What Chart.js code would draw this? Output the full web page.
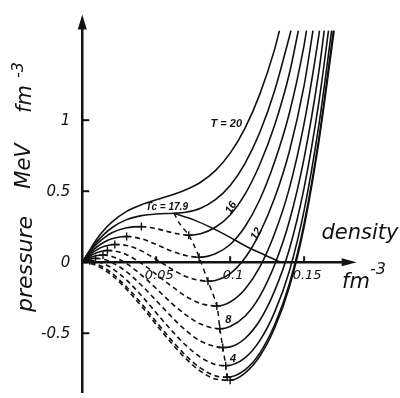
<!DOCTYPE html>
<html><head><meta charset="utf-8">
<script src="https://cdn.jsdelivr.net/npm/chart.js@4/dist/chart.umd.min.js"></script>
<style>html,body{margin:0;padding:0;background:#fff;}canvas{display:block;}</style>
</head><body>
<canvas id="c" width="400" height="398"></canvas>
<script>
// ---- data (density in fm^-3, pressure in MeV fm^-3) ----
const temperatures = [20, 17.9, 16, 14, 12, 10, 8, 6, 4, 2, 0];

const density_T20  = [0, 0.005, 0.01, 0.015, 0.02, 0.03, 0.04, 0.05, 0.06, 0.07, 0.08, 0.09, 0.10, 0.11, 0.12, 0.13, 0.1333];
const pressure_T20 = [0, 0.085, 0.165, 0.23, 0.283, 0.358, 0.405, 0.44, 0.472, 0.51, 0.563, 0.645, 0.768, 0.943, 1.182, 1.497, 1.63];

const density_T179  = [0, 0.005, 0.01, 0.015, 0.02, 0.03, 0.04, 0.05, 0.062, 0.07, 0.08, 0.09, 0.10, 0.11, 0.12, 0.13, 0.14, 0.1411];
const pressure_T179 = [0, 0.078, 0.145, 0.2, 0.243, 0.3, 0.328, 0.34, 0.345, 0.352, 0.38, 0.44, 0.541, 0.695, 0.913, 1.206, 1.586, 1.63];

const density_T16  = [0, 0.005, 0.01, 0.015, 0.02, 0.03, 0.04, 0.05, 0.06, 0.072, 0.08, 0.09, 0.10, 0.11, 0.12, 0.13, 0.14, 0.1461];
const pressure_T16 = [0, 0.072, 0.13, 0.174, 0.207, 0.243, 0.251, 0.236, 0.21, 0.19, 0.2, 0.246, 0.333, 0.478, 0.688, 0.963, 1.327, 1.63];

const density_T14  = [0, 0.005, 0.01, 0.015, 0.02, 0.03, 0.04, 0.05, 0.06, 0.07, 0.079, 0.09, 0.10, 0.11, 0.12, 0.13, 0.14, 0.15, 0.1516];
const pressure_T14 = [0, 0.062, 0.109, 0.143, 0.165, 0.181, 0.165, 0.125, 0.08, 0.047, 0.035, 0.06, 0.125, 0.25, 0.44, 0.705, 1.049, 1.529, 1.63];

const density_T12  = [0, 0.005, 0.01, 0.015, 0.022, 0.03, 0.04, 0.05, 0.06, 0.07, 0.085, 0.09, 0.10, 0.11, 0.12, 0.13, 0.14, 0.15, 0.156];
const pressure_T12 = [0, 0.052, 0.089, 0.112, 0.125, 0.118, 0.08, 0.02, -0.045, -0.1, -0.133, -0.128, -0.08, 0.03, 0.205, 0.45, 0.78, 1.245, 1.63];

const density_T10  = [0, 0.005, 0.01, 0.017, 0.02, 0.03, 0.04, 0.05, 0.06, 0.07, 0.08, 0.091, 0.10, 0.11, 0.12, 0.13, 0.14, 0.15, 0.16, 0.1604];
const pressure_T10 = [0, 0.042, 0.068, 0.083, 0.082, 0.053, -0.008, -0.085, -0.165, -0.24, -0.29, -0.308, -0.28, -0.19, -0.035, 0.2, 0.52, 0.977, 1.60, 1.63];

const density_T8  = [0, 0.005, 0.01, 0.014, 0.02, 0.03, 0.04, 0.05, 0.06, 0.07, 0.08, 0.093, 0.10, 0.11, 0.12, 0.13, 0.14, 0.15, 0.16, 0.1636];
const pressure_T8 = [0, 0.032, 0.048, 0.051, 0.041, -0.01, -0.09, -0.185, -0.285, -0.37, -0.435, -0.468, -0.452, -0.38, -0.24, -0.02, 0.288, 0.733, 1.345, 1.63];

const density_T6  = [0, 0.005, 0.009, 0.015, 0.02, 0.03, 0.04, 0.05, 0.06, 0.07, 0.08, 0.095, 0.10, 0.11, 0.12, 0.13, 0.14, 0.15, 0.16, 0.1665];
const pressure_T6 = [0, 0.021, 0.027, 0.019, -0.001, -0.068, -0.162, -0.27, -0.38, -0.48, -0.555, -0.60, -0.596, -0.537, -0.41, -0.203, 0.092, 0.524, 1.129, 1.63];

const density_T4  = [0, 0.005, 0.01, 0.015, 0.02, 0.03, 0.04, 0.05, 0.06, 0.07, 0.08, 0.09, 0.097, 0.11, 0.12, 0.13, 0.14, 0.15, 0.16, 0.1686];
const pressure_T4 = [0, 0.011, 0.006, -0.012, -0.041, -0.126, -0.235, -0.356, -0.476, -0.584, -0.669, -0.72, -0.728, -0.673, -0.552, -0.353, -0.063, 0.365, 0.967, 1.63];

const density_T2  = [0, 0.005, 0.01, 0.015, 0.02, 0.03, 0.04, 0.05, 0.06, 0.07, 0.08, 0.09, 0.098, 0.11, 0.12, 0.13, 0.14, 0.15, 0.16, 0.1698];
const pressure_T2 = [0, 0.001, -0.014, -0.04, -0.077, -0.174, -0.291, -0.419, -0.544, -0.657, -0.746, -0.80, -0.81, -0.758, -0.64, -0.442, -0.153, 0.273, 0.873, 1.63];

const density_T0  = [0, 0.005, 0.01, 0.015, 0.02, 0.03, 0.04, 0.05, 0.06, 0.07, 0.08, 0.09, 0.10, 0.11, 0.12, 0.13, 0.14, 0.15, 0.16, 0.1703];
const pressure_T0 = [0, -0.0065, -0.025, -0.054, -0.092, -0.191, -0.31, -0.439, -0.565, -0.679, -0.768, -0.822, -0.83, -0.78, -0.662, -0.465, -0.176, 0.25, 0.85, 1.63];

// unstable (dashed) part of each isotherm: from local maximum to local minimum
const spinodalMaxDensity = [null, null, 0.04, 0.03, 0.022, 0.017, 0.014, 0.009, 0.005, 0, 0];
const spinodalMinDensity = [null, null, 0.072, 0.079, 0.085, 0.091, 0.093, 0.095, 0.097, 0.098, 0.10];

// dashed spinodal line from the critical point
const spinodalLineDensity  = [0.062, 0.066, 0.072, 0.076, 0.079, 0.085, 0.091, 0.093, 0.095, 0.097, 0.098, 0.10];
const spinodalLinePressure = [0.345, 0.27, 0.19, 0.11, 0.035, -0.133, -0.308, -0.468, -0.60, -0.728, -0.81, -0.83];

// solid line from the critical point down to the density axis
const boundaryDensity  = [0.062, 0.075, 0.088, 0.10, 0.112, 0.124, 0.134];
const boundaryPressure = [0.345, 0.30, 0.24, 0.175, 0.105, 0.048, 0.0];

const xTickValues = [0.05, 0.1, 0.15];
const xTickLabels = ['0.05', '0.1', '0.15'];
const yTickValues = [1, 0.5, 0, -0.5];
const yTickLabels = ['1', '0.5', '0', '-0.5'];

// ---- build datasets ----
const isoDensity  = [density_T20, density_T179, density_T16, density_T14, density_T12, density_T10, density_T8, density_T6, density_T4, density_T2, density_T0];
const isoPressure = [pressure_T20, pressure_T179, pressure_T16, pressure_T14, pressure_T12, pressure_T10, pressure_T8, pressure_T6, pressure_T4, pressure_T2, pressure_T0];

const INK = '#111';
const datasets = [];
temperatures.forEach((T, i) => {
  const lo = spinodalMaxDensity[i], hi = spinodalMinDensity[i];
  datasets.push({
    label: 'T = ' + T,
    data: isoDensity[i].map((n, k) => ({x: n, y: isoPressure[i][k]})),
    borderColor: INK, borderWidth: 1.6, pointRadius: 0,
    cubicInterpolationMode: 'monotone', fill: false,
    segment: {
      borderDash: ctx => (lo !== null && ctx.p0.parsed.x >= lo - 1e-9 && ctx.p1.parsed.x <= hi + 1e-9) ? [5, 3.5] : undefined
    }
  });
});

// cross marks at the extrema of the subcritical isotherms
const crossPoints = [];
temperatures.forEach((T, i) => {
  [spinodalMaxDensity[i], spinodalMinDensity[i]].forEach(n => {
    if (n === null || n === 0) return;
    const k = isoDensity[i].indexOf(n);
    if (k >= 0) crossPoints.push({x: n, y: isoPressure[i][k]});
  });
});
datasets.push({
  label: 'spinodal marks', data: crossPoints, showLine: false,
  pointStyle: 'cross', pointRadius: 4, borderColor: INK, borderWidth: 1.4
});
datasets.push({
  label: 'spinodal', data: spinodalLineDensity.map((n, k) => ({x: n, y: spinodalLinePressure[k]})),
  borderColor: INK, borderWidth: 1.5, pointRadius: 0, borderDash: [5, 4], tension: 0.3
});
datasets.push({
  label: 'boundary', data: boundaryDensity.map((n, k) => ({x: n, y: boundaryPressure[k]})),
  borderColor: INK, borderWidth: 1.6, pointRadius: 0, tension: 0.3
});

// ---- axes, ticks and texts ----
const FONT = '"DejaVu Sans", "Liberation Sans", sans-serif';
const LFONT = '"Liberation Sans", Arial, sans-serif';
const axesPlugin = {
  id: 'axesPlugin',
  afterDatasetsDraw(chart) {
    const {ctx, scales: {x, y}} = chart;
    const X = v => x.getPixelForValue(v), Y = v => y.getPixelForValue(v);
    const x0 = X(0), y0 = Y(0);
    ctx.save();
    ctx.strokeStyle = INK; ctx.fillStyle = INK; ctx.lineWidth = 2.5; ctx.setLineDash([]);
    // vertical axis
    const yTip = Y(1.745);
    ctx.beginPath(); ctx.moveTo(x0, Y(-0.92)); ctx.lineTo(x0, yTip + 10); ctx.stroke();
    ctx.beginPath(); ctx.moveTo(x0, yTip); ctx.lineTo(x0 - 4.5, yTip + 15); ctx.lineTo(x0 + 4.5, yTip + 15); ctx.closePath(); ctx.fill();
    // horizontal axis
    const xTip = X(0.1855);
    ctx.beginPath(); ctx.moveTo(x0, y0); ctx.lineTo(xTip - 10, y0); ctx.stroke();
    ctx.beginPath(); ctx.moveTo(xTip, y0); ctx.lineTo(xTip - 15, y0 - 4); ctx.lineTo(xTip - 15, y0 + 4); ctx.closePath(); ctx.fill();
    // ticks
    ctx.lineWidth = 2;
    yTickValues.forEach(v => { if (v === 0) return; ctx.beginPath(); ctx.moveTo(x0, Y(v)); ctx.lineTo(x0 + 7, Y(v)); ctx.stroke(); });
    xTickValues.forEach(v => { ctx.beginPath(); ctx.moveTo(X(v), y0); ctx.lineTo(X(v), y0 - 6); ctx.stroke(); });
    // tick labels
    ctx.font = 'italic 15px ' + FONT;
    ctx.textAlign = 'right'; ctx.textBaseline = 'middle';
    yTickValues.forEach((v, k) => ctx.fillText(yTickLabels[k], x0 - 12, Y(v) + 1));
    ctx.font = 'italic 13px ' + FONT;
    ctx.textAlign = 'center';
    xTickValues.forEach((v, k) => ctx.fillText(xTickLabels[k], X(v) + 3, y0 + 13));
    // axis titles
    ctx.font = 'italic 21px ' + FONT;
    ctx.textAlign = 'center'; ctx.textBaseline = 'middle';
    ctx.fillText('density', 360, 234);
    ctx.textAlign = 'left';
    ctx.fillText('fm', 342, 283);
    ctx.font = 'italic 16px ' + FONT;
    ctx.fillText('-3', 370, 270);
    const rot = (txt, px, py, size) => {
      ctx.save(); ctx.translate(px, py); ctx.rotate(-Math.PI / 2);
      ctx.font = 'italic ' + size + 'px ' + FONT; ctx.textAlign = 'center'; ctx.textBaseline = 'middle';
      ctx.fillText(txt, 0, 0); ctx.restore();
    };
    rot('pressure', 26, 264, 22);
    rot('MeV', 25, 166, 21);
    rot('fm', 26, 99, 21);
    rot('-3', 19, 70, 16);
    // curve labels (anchored in data coordinates)
    const labels = [
      {t: 'T = 20', n: 0.0974, p: 0.973, a: 0, s: 11},
      {t: 'Tc = 17.9', n: 0.0572, p: 0.385, a: 0, s: 10},
      {t: '16', n: 0.1007, p: 0.384, a: -60, s: 11},
      {t: '12', n: 0.1178, p: 0.199, a: -60, s: 11},
      {t: '8', n: 0.0987, p: -0.404, a: 0, s: 11},
      {t: '4', n: 0.102, p: -0.678, a: 0, s: 11}
    ];
    labels.forEach(l => {
      ctx.save(); ctx.translate(X(l.n), Y(l.p)); ctx.rotate(l.a * Math.PI / 180);
      ctx.font = 'italic bold ' + l.s + 'px ' + LFONT; ctx.textAlign = 'center'; ctx.textBaseline = 'middle';
      ctx.fillText(l.t, 0, 0); ctx.restore();
    });
    ctx.restore();
  }
};

new Chart(document.getElementById('c'), {
  type: 'line',
  data: {datasets},
  options: {
    responsive: false, animation: false, devicePixelRatio: 1,
    layout: {padding: 0},
    plugins: {legend: {display: false}, tooltip: {enabled: false}},
    scales: {
      x: {type: 'linear', display: false, min: -0.05197, max: 0.21118},
      y: {type: 'linear', display: false, min: -0.91781, max: 1.80822}
    }
  },
  plugins: [axesPlugin]
});
</script>
</body></html>
